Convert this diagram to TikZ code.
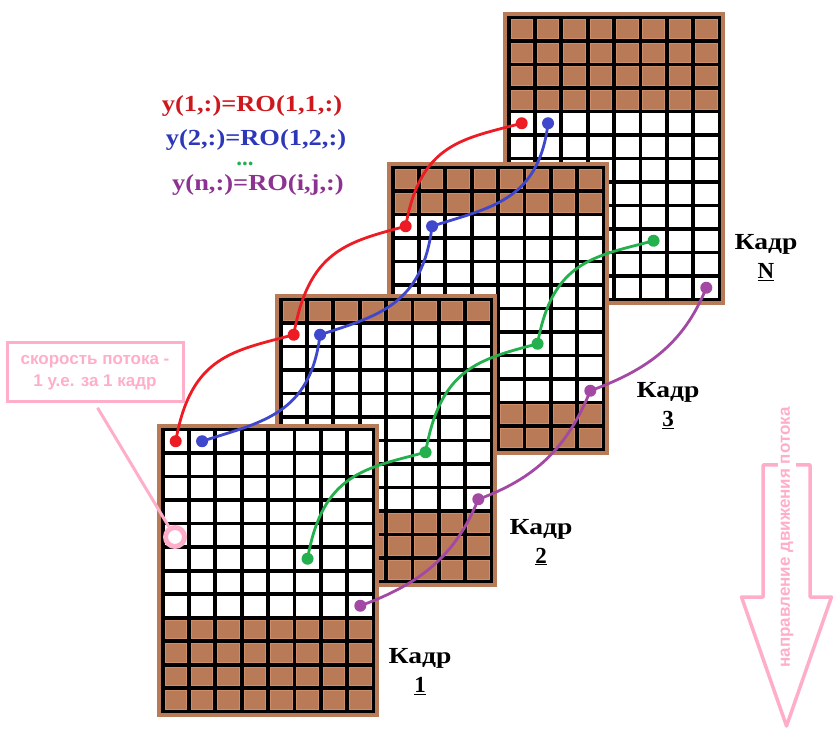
\documentclass[tikz,border=0pt]{standalone}
\usepackage{fontspec}
\setmainfont{Liberation Serif}
\newfontfamily\pinkfont{Liberation Sans}
\usepackage{graphicx}
\usetikzlibrary{calc}
\definecolor{brownc}{RGB}{185,122,87}
\definecolor{brownl}{RGB}{206,142,106}
\definecolor{redc}{RGB}{237,28,36}
\definecolor{bluec}{RGB}{63,72,204}
\definecolor{greenc}{RGB}{34,177,76}
\definecolor{purplec}{RGB}{163,73,164}
\definecolor{pinkc}{RGB}{255,174,201}
\definecolor{redt}{RGB}{205,25,30}
\definecolor{bluet}{RGB}{45,55,185}
\definecolor{purplet}{RGB}{140,50,145}

% #1 left x, #2 top y, #3 brown rows on top, #4 brown rows at bottom
\newcommand\kadrframe[4]{%
  \fill[brownc] (#1,#2) rectangle ++(222,-293);
  \fill[black] ({#1+4},{#2-4}) rectangle ++(214,-285);
  \foreach \r in {1,...,12}{%
    \foreach \c in {1,...,8}{%
      \ifnum\r>#3\relax
        \ifnum\r>\numexpr12-#4\relax \def\cellc{brownc}\def\celld{brownl}\else\def\cellc{white}\def\celld{white}\fi
      \else \def\cellc{brownc}\def\celld{brownl}\fi
      \filldraw[fill=\cellc, draw=\celld, line width=0.8pt] ({#1+7.9+(\c-1)*26.375},{#2-7.9-(\r-1)*23.5}) rectangle ++(21.6,-18.7);
    }}}

\begin{document}
\begin{tikzpicture}[x=1pt,y=1pt,
  flowdot/.style={circle,inner sep=0pt,minimum size=12pt,fill=#1},
  flow/.style={line width=2.8pt,draw=#1},
  kadr/.style={font=\bfseries\fontsize{23}{29}\selectfont, align=center, text=black},
  eq/.style={font=\bfseries\fontsize{23}{25}\selectfont, anchor=base, inner sep=0.5pt},
  pinkline/.style={draw=pinkc, line width=3pt}]
\useasboundingbox (0,0) rectangle (833,729);

% frames (back to front)
\kadrframe{503}{717}{4}{0}
\kadrframe{387}{567}{2}{2}
\kadrframe{275}{435}{1}{3}
\kadrframe{157}{305}{0}{4}

% dot positions
\coordinate (r1) at (175.7,287.75);
\coordinate (b1) at (202.06,287.75);
\coordinate (g1) at (307.56,170.25);
\coordinate (p1) at (360.31,123.25);
\coordinate (r2) at (293.69,394.25);
\coordinate (b2) at (320.06,394.25);
\coordinate (g2) at (425.56,276.75);
\coordinate (p2) at (478.31,229.75);
\coordinate (r3) at (405.69,502.75);
\coordinate (b3) at (432.06,502.75);
\coordinate (g3) at (537.56,385.25);
\coordinate (p3) at (590.31,338.25);
\coordinate (r4) at (521.69,605.75);
\coordinate (b4) at (548.06,605.75);
\coordinate (g4) at (653.56,488.25);
\coordinate (p4) at (706.31,441.25);

% trajectories
\tikzset{upleg/.style={out=80,in=195,out looseness=1.4,in looseness=1.0},
         rightleg/.style={out=18,in=263,out looseness=1.0,in looseness=1.3}}
\draw[flow=redc] (r1) to[upleg] (r2) to[upleg] (r3) to[upleg] (r4);
\draw[flow=bluec] (b1) to[rightleg] (b2) to[rightleg] (b3) to[rightleg] (b4);
\draw[flow=greenc] (g1) to[upleg] (g2) to[upleg] (g3) to[upleg] (g4);
\draw[flow=purplec] (p1) to[out=20,in=248] (p2) to[out=20,in=248] (p3) to[out=20,in=248] (p4);

\foreach \n/\col in {r1/redc,r2/redc,r3/redc,r4/redc,b1/bluec,b2/bluec,b3/bluec,b4/bluec,g1/greenc,g2/greenc,g3/greenc,g4/greenc,p1/purplec,p2/purplec,p3/purplec,p4/purplec}
  \node[flowdot=\col] (\n dot) at (\n) {};

% equations
\node[eq, text=redt] (eq1) at (252,617) {\scalebox{1.15}[1]{y(1,:)=RO(1,1,:)}};
\node[eq, text=bluet] (eq2) at (256,583) {\scalebox{1.15}[1]{y(2,:)=RO(1,2,:)}};
\node[eq, text=greenc] (eqdots) at (245,563) {...};
\node[eq, text=purplet] (eqn) at (258,538) {\scalebox{1.15}[1]{y(n,:)=RO(i,j,:)}};

% frame labels
\node[kadr] (k1) at (420,57.5) {\scalebox{1.2}[1]{Кадр}\\\underline{1}};
\node[kadr] (k2) at (541,187) {\scalebox{1.2}[1]{Кадр}\\\underline{2}};
\node[kadr] (k3) at (668,323) {\scalebox{1.2}[1]{Кадр}\\\underline{3}};
\node[kadr] (kN) at (766,471.5) {\scalebox{1.2}[1]{Кадр}\\\underline{N}};

% speed note
\node[draw=pinkc, line width=3pt, text=pinkc, align=center, minimum width=176pt, minimum height=59pt,
      font=\pinkfont\bfseries\fontsize{17}{22}\selectfont] (pbox) at (95,356.5)
      {скорость потока -\\1 у.е. за 1 кадр};
\node[circle, draw=pinkc, fill=white, line width=5pt, minimum size=19pt, inner sep=0pt] (pcirc) at (175,192) {};
\draw[pinkline, shorten <=5pt] (pbox.south) -- (pcirc);

% flow direction arrow
\draw[pinkline, line width=3.5pt, line join=round] (763,264) -- (763,132) -- (741.5,132) -- (786.5,3)
  -- (831.5,132) -- (810,132) -- (810,264) -- cycle;
\node[rotate=90, fill=white, inner sep=3pt, text=pinkc, font=\pinkfont\bfseries\fontsize{17}{20}\selectfont]
  (flowtext) at (787,191.5) {направление движения потока};
\end{tikzpicture}
\end{document}
